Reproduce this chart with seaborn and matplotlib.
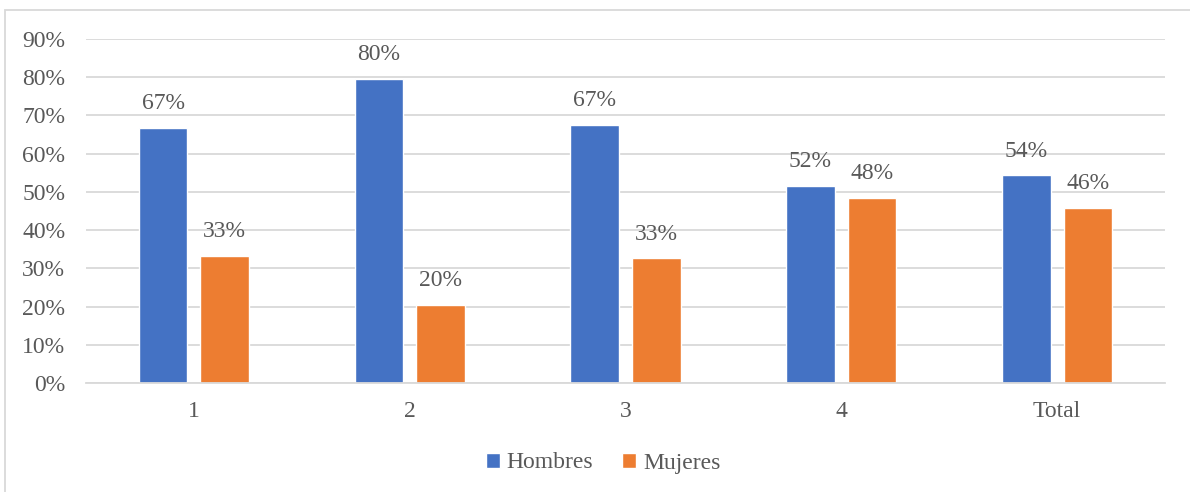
import matplotlib
matplotlib.use("Agg")
import matplotlib.pyplot as plt
from matplotlib.patches import Rectangle
from matplotlib.ticker import PercentFormatter
import seaborn as sns
import pandas as pd

# Data
categories = ["1", "2", "3", "4", "Total"]
hombres = [0.667, 0.796, 0.674, 0.516, 0.543]
mujeres = [0.333, 0.204, 0.326, 0.484, 0.457]
series_names = ["Hombres", "Mujeres"]
colors = ["#4472C4", "#ED7D31"]
text_color = "#595959"

df = pd.DataFrame({
    "grupo": categories * 2,
    "sexo": [series_names[0]] * len(categories) + [series_names[1]] * len(categories),
    "valor": hombres + mujeres,
})

sns.set_theme(style="white")
plt.rcParams["font.family"] = ["Liberation Serif", "DejaVu Serif"]

fig = plt.figure(figsize=(11.9, 4.92), dpi=100)
ax = fig.add_axes([86 / 1190, 1 - 383 / 492, (1165 - 86) / 1190, (383 - 39) / 492])

sns.barplot(data=df, x="grupo", y="valor", hue="sexo", order=categories,
            hue_order=series_names, palette=colors, width=0.57, gap=0.21,
            saturation=1, ax=ax, legend=True)

ax.set_ylim(0, 0.9)
ax.set_xlim(-0.5, len(categories) - 0.5)
ax.set_yticks([i / 10 for i in range(10)])
ax.yaxis.set_major_formatter(PercentFormatter(1.0, decimals=0))
ax.grid(axis="y", color="#d9d9d9", linewidth=1.3)
ax.set_axisbelow(True)
for s in ["top", "right", "left"]:
    ax.spines[s].set_visible(False)
ax.spines["bottom"].set_color("#d9d9d9")
ax.spines["bottom"].set_linewidth(1.3)
ax.tick_params(axis="both", length=0, labelsize=17, colors=text_color)
ax.tick_params(axis="y", pad=15)
ax.tick_params(axis="x", pad=13)
ax.set_xlabel("")
ax.set_ylabel("")

for container in ax.containers:
    ax.bar_label(container, labels=[f"{v * 100:.0f}%" for v in container.datavalues],
                 padding=10, fontsize=17, color=text_color, clip_on=False)

handles, labels = ax.get_legend_handles_labels()
ax.legend(handles, labels, loc="center", ncol=2, frameon=False,
          fontsize=17, labelcolor=text_color, handlelength=0.6, handleheight=0.6,
          handletextpad=0.3, columnspacing=1.2)
leg = ax.get_legend()
leg.set_bbox_to_anchor((603 / 1190, 1 - 463 / 492), transform=fig.transFigure)

# Chart area frame
fig.patches.append(Rectangle((5 / 1190, -0.1), 1.2, 1 - 9.5 / 492 + 0.1,
                             transform=fig.transFigure, fill=False,
                             edgecolor="#d9d9d9", linewidth=1.3))

fig.savefig("out.png", dpi=100)
